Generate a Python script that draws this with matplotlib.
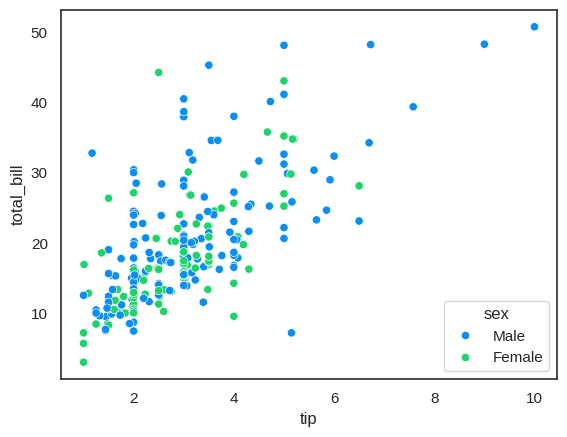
import matplotlib
matplotlib.use('Agg')
import matplotlib.pyplot as plt
import seaborn as sns
import pandas as pd

# tips data: total_bill, tip, sex
total_bill = [
    16.99, 10.34, 21.01, 23.68, 24.59, 25.29, 8.77, 26.88, 15.04, 14.78,
    10.27, 35.26, 15.42, 18.43, 14.83, 21.58, 10.33, 16.29, 16.97, 20.65,
    17.92, 20.29, 15.77, 39.42, 19.82, 17.81, 13.37, 12.69, 21.70, 19.65,
    9.55, 18.35, 15.06, 20.69, 17.78, 24.06, 16.31, 16.93, 18.69, 31.27,
    16.04, 17.46, 13.94, 9.68, 30.40, 18.29, 22.23, 32.40, 28.55, 18.04,
    12.54, 10.29, 34.81, 9.94, 25.56, 19.49, 38.01, 26.41, 11.24, 48.27,
    20.29, 13.81, 11.02, 18.29, 17.59, 20.08, 16.45, 3.07, 20.23, 15.01,
    12.02, 17.07, 26.86, 25.28, 14.73, 10.51, 17.92, 27.20, 22.76, 17.29,
    19.44, 16.66, 10.07, 32.68, 15.98, 34.83, 13.03, 18.28, 24.71, 21.16,
    28.97, 22.49, 5.75, 16.32, 22.75, 40.17, 27.28, 12.03, 21.01, 12.46,
    11.35, 15.38, 44.30, 22.42, 20.92, 15.36, 20.49, 25.21, 18.24, 14.31,
    14.00, 7.25, 38.07, 23.95, 25.71, 17.31, 29.93, 10.65, 12.43, 24.08,
    11.69, 13.42, 14.26, 15.95, 12.48, 29.80, 8.52, 14.52, 11.38, 22.82,
    19.08, 20.27, 11.17, 12.26, 18.26, 8.51, 10.33, 14.15, 16.00, 13.16,
    17.47, 34.30, 41.19, 27.05, 16.43, 8.35, 18.64, 11.87, 9.78, 7.51,
    14.07, 13.13, 17.26, 24.55, 19.77, 29.85, 48.17, 25.00, 13.39, 16.49,
    21.50, 12.66, 16.21, 13.81, 17.51, 24.52, 20.76, 31.71, 10.59, 10.63,
    50.81, 15.81, 7.25, 31.85, 16.82, 32.90, 17.89, 14.48, 9.60, 34.63,
    34.65, 23.33, 45.35, 23.17, 40.55, 20.69, 20.90, 30.46, 18.15, 23.10,
    15.69, 19.81, 28.44, 15.48, 16.58, 7.56, 10.34, 43.11, 13.00, 13.51,
    18.71, 12.74, 13.00, 16.40, 20.53, 16.47, 26.59, 38.73, 24.27, 12.76,
    30.06, 25.89, 48.33, 13.27, 28.17, 12.90, 28.15, 11.59, 7.74, 30.14,
    12.16, 13.42, 8.58, 15.98, 13.42, 16.27, 10.09, 20.45, 13.28, 22.12,
    24.01, 15.69, 11.61, 10.77, 15.53, 10.07, 12.60, 32.83, 35.83, 29.03,
    27.18, 22.67, 17.82, 18.78,
]
tip = [
    1.01, 1.66, 3.50, 3.31, 3.61, 4.71, 2.00, 3.12, 1.96, 3.23,
    1.71, 5.00, 1.57, 3.00, 3.02, 3.92, 1.67, 3.71, 3.50, 3.35,
    4.08, 2.75, 2.23, 7.58, 3.18, 2.34, 2.00, 2.00, 4.30, 3.00,
    1.45, 2.50, 3.00, 2.45, 3.27, 3.60, 2.00, 3.07, 2.31, 5.00,
    2.24, 2.54, 3.06, 1.32, 5.60, 3.00, 5.00, 6.00, 2.05, 3.00,
    2.50, 2.60, 5.20, 1.56, 4.34, 3.51, 3.00, 1.50, 1.76, 6.73,
    3.21, 2.00, 1.98, 3.76, 2.64, 3.15, 2.47, 1.00, 2.01, 2.09,
    1.97, 3.00, 3.14, 5.00, 2.20, 1.25, 3.08, 4.00, 3.00, 2.71,
    3.00, 3.40, 1.83, 5.00, 2.03, 5.17, 2.00, 4.00, 5.85, 3.00,
    3.00, 3.50, 1.00, 4.30, 3.25, 4.73, 4.00, 1.50, 3.00, 1.50,
    2.50, 3.00, 2.50, 3.48, 4.08, 1.64, 4.06, 4.29, 3.76, 4.00,
    3.00, 1.00, 4.00, 2.55, 4.00, 3.50, 5.07, 1.50, 1.80, 2.92,
    2.31, 1.68, 2.50, 2.00, 2.52, 4.20, 1.48, 2.00, 2.00, 2.18,
    1.50, 2.83, 1.50, 2.00, 3.25, 1.25, 2.00, 2.00, 2.00, 2.75,
    3.50, 6.70, 5.00, 5.00, 2.30, 1.50, 1.36, 1.63, 1.73, 2.00,
    2.50, 2.00, 2.74, 2.00, 2.00, 5.14, 5.00, 3.75, 2.61, 2.00,
    3.50, 2.50, 2.00, 2.00, 3.00, 3.48, 2.24, 4.50, 1.61, 2.00,
    10.00, 3.16, 5.15, 3.18, 4.00, 3.11, 2.00, 2.00, 4.00, 3.55,
    3.68, 5.65, 3.50, 6.50, 3.00, 5.00, 3.50, 2.00, 3.50, 4.00,
    1.50, 4.19, 2.56, 2.02, 4.00, 1.44, 2.00, 5.00, 2.00, 2.00,
    4.00, 2.01, 2.00, 2.50, 4.00, 3.23, 3.41, 3.00, 2.03, 2.23,
    2.00, 5.16, 9.00, 2.50, 6.50, 1.10, 3.00, 1.50, 1.44, 3.09,
    2.20, 3.48, 1.92, 3.00, 1.58, 2.50, 2.00, 3.00, 2.72, 2.88,
    2.00, 3.00, 3.39, 1.47, 3.00, 1.25, 1.00, 1.17, 4.67, 5.92,
    2.00, 2.00, 1.75, 3.00,
]
M, F = 'Male', 'Female'
sex = [
    F, M, M, M, F, M, M, M, M, M,
    M, F, M, M, F, M, F, M, F, M,
    M, F, F, M, M, M, M, M, M, F,
    M, M, F, F, M, M, M, F, M, M,
    M, M, M, M, M, M, M, M, M, M,
    M, F, F, M, M, M, M, F, M, M,
    M, M, M, M, M, M, F, F, M, M,
    M, F, F, F, F, M, M, M, M, M,
    M, M, F, M, M, F, M, M, M, M,
    M, M, F, F, F, M, M, M, M, M,
    F, F, F, F, F, M, M, M, M, F,
    M, F, M, M, F, F, M, F, F, F,
    M, F, M, M, F, F, M, F, F, M,
    M, F, F, F, F, F, F, F, M, F,
    F, M, M, F, F, F, F, F, M, M,
    M, M, M, M, M, F, M, F, F, M,
    M, M, F, M, F, M, M, M, F, F,
    M, M, M, M, M, M, M, M, F, M,
    M, M, M, M, M, M, F, M, F, M,
    M, F, M, M, M, M, M, F, F, M,
    M, F, F, F, M, F, M, M, M, F,
    M, M, M, F, F, F, M, M, M, F,
    M, F, M, F, M, F, F, M, M, F,
    M, M, M, M, M, M, M, M, F, M,
    F, M, M, F,
]

df = pd.DataFrame({'total_bill': total_bill, 'tip': tip, 'sex': sex})

sns.set_theme(style='white')
plt.rcParams['font.family'] = ['Liberation Sans', 'DejaVu Sans']

fig = plt.figure(figsize=(5.67, 4.37), dpi=100)
ax = fig.add_axes([61 / 567, 1 - 379 / 437, 496 / 567, 369 / 437])
sns.scatterplot(data=df, x='tip', y='total_bill', hue='sex',
                hue_order=['Male', 'Female'],
                palette=['#0a8ef2', '#1fd36a'], ax=ax)
for s in ax.spines.values():
    s.set_color('#333333')
    s.set_linewidth(1.25)
ax.legend(title='sex', loc='lower right')

fig.savefig('out.png', dpi=100)
